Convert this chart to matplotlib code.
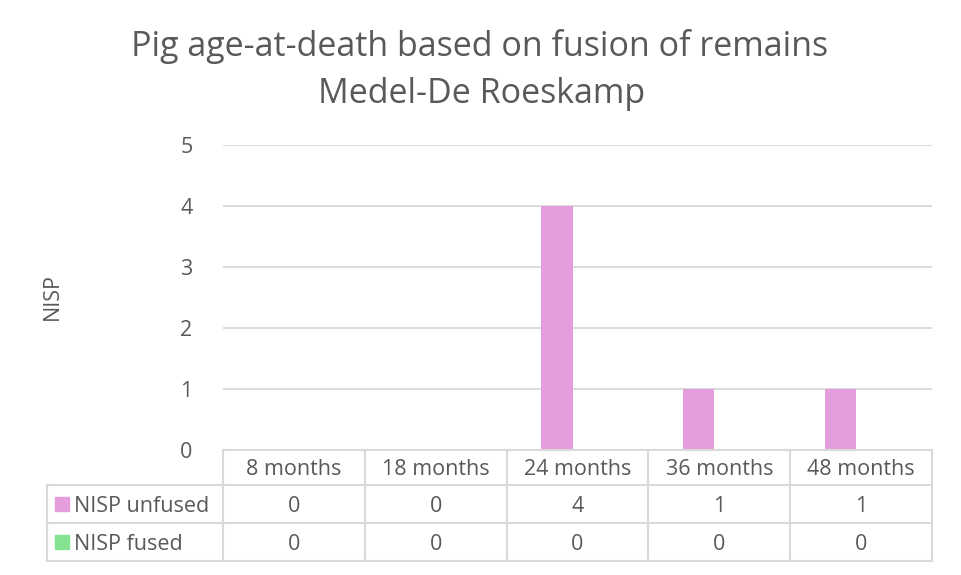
import matplotlib.pyplot as plt
from matplotlib.lines import Line2D
from matplotlib.patches import Rectangle

categories = ['8 months', '18 months', '24 months', '36 months', '48 months']
unfused = [0, 0, 4, 1, 1]
fused = [0, 0, 0, 0, 0]
series_names = ['NISP unfused', 'NISP fused']
series_colors = ['#E49EDD', '#84E291']

W, H = 961, 575
grey = '#595959'
line_col = '#D9D9D9'
fs = 15.5
plt.rcParams['font.family'] = ['Open Sans', 'DejaVu Sans']

fig = plt.figure(figsize=(W / 100, H / 100), dpi=100)


def fx(px):
    return px / W


def fy(py):
    return 1 - py / H


# plot area in pixels
left, right, top, bottom = 223, 932, 145, 450
ax = fig.add_axes([fx(left), fy(bottom), fx(right - left), (bottom - top) / H])

x = list(range(len(categories)))
bw = 0.22
off = 0.145
ax.bar([i - off for i in x], unfused, width=bw, color=series_colors[0], zorder=3)
ax.bar([i + off for i in x], fused, width=bw, color=series_colors[1], zorder=3)

ax.set_xlim(-0.5, len(categories) - 0.5)
ax.set_ylim(0, 5)
ax.set_yticks(range(6))
ax.yaxis.grid(True, color=line_col, linewidth=1.3, zorder=0)
ax.set_xticks([])
for s in ax.spines.values():
    s.set_visible(False)
ax.tick_params(axis='y', length=0, pad=22, labelsize=fs, labelcolor=grey)
fig.text(fx(52), fy(297), 'NISP', rotation=90, ha='center', va='center',
         fontsize=fs, color=grey)

fig.text(fx(480), fy(47), 'Pig age-at-death based on fusion of remains', ha='center',
         va='center', fontsize=24.5, color=grey)
fig.text(fx(482), fy(94), 'Medel-De Roeskamp', ha='center', va='center',
         fontsize=24.5, color=grey)

# data table
tbl_left = 47
row_y = [450, 485, 523, 561]
col_x = [left + i * (right - left) / len(categories) for i in range(len(categories) + 1)]


def hline(y, x0, x1):
    fig.add_artist(Line2D([fx(x0), fx(x1)], [fy(y), fy(y)], color=line_col, lw=1.5))


def vline(xp, y0, y1):
    fig.add_artist(Line2D([fx(xp), fx(xp)], [fy(y0), fy(y1)], color=line_col, lw=1.5))


hline(row_y[0], left, right)
for y in row_y[1:]:
    hline(y, tbl_left, right)
vline(tbl_left, row_y[1], row_y[3])
for xp in col_x:
    vline(xp, row_y[0], row_y[3])

for i, c in enumerate(categories):
    cx = (col_x[i] + col_x[i + 1]) / 2
    fig.text(fx(cx), fy((row_y[0] + row_y[1]) / 2 + 2), c, ha='center', va='center',
             fontsize=fs, color=grey)
    for r, vals in enumerate([unfused, fused]):
        fig.text(fx(cx), fy((row_y[r + 1] + row_y[r + 2]) / 2 + 2), str(vals[i]),
                 ha='center', va='center', fontsize=fs, color=grey)

for r, name in enumerate(series_names):
    cy = (row_y[r + 1] + row_y[r + 2]) / 2
    fig.add_artist(Rectangle((fx(55), fy(cy + 7)), 14 / W, 14 / H,
                             color=series_colors[r], transform=fig.transFigure))
    fig.text(fx(74), fy(cy + 2), name, ha='left', va='center', fontsize=fs, color=grey)

fig.savefig('out.png', dpi=100)
